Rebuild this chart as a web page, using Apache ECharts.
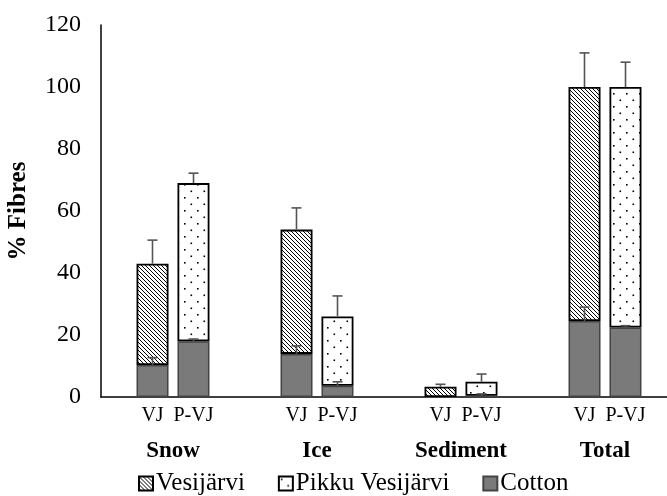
<!DOCTYPE html>
<html><head><meta charset="utf-8">
<script src="https://cdn.jsdelivr.net/npm/echarts@6/dist/echarts.min.js"></script>
<style>html,body{margin:0;padding:0;background:#fff;overflow:hidden;width:667px;height:496px}#c{width:677px;height:496px}</style>
</head><body><div id="c"></div>
<script>
// ---- data ----
const groups = ['Snow', 'Ice', 'Sediment', 'Total'];
const subLabels = ['VJ', 'P-VJ'];
const yTicks = [0, 20, 40, 60, 80, 100, 120];
const vjCotton = [10.3, 13.9, 0, 24.5];
const vjCottonErr = [2.4, 2.6, 0, 4.5];
const vesijarvi = [32.7, 40.1, 3.3, 75.5];
const vjTotalErr = [7.6, 7.0, 0.8, 11];
const pvjCotton = [18, 3.6, 0.4, 22.4];
const pvjCottonErr = [0.7, 1.3, 0.6, 0.6];
const pikku = [51, 22.4, 4.5, 77.6];
const pvjTotalErr = [3.2, 6.6, 2.5, 8];

const FONT = "'Liberation Serif','Times New Roman',serif";

function hatchPattern() {
  const s = 4, c = document.createElement('canvas'); c.width = c.height = s;
  const g = c.getContext('2d');
  g.fillStyle = '#fff'; g.fillRect(0, 0, s, s);
  g.strokeStyle = '#000'; g.lineWidth = 1;
  g.beginPath();
  g.moveTo(-1, -1); g.lineTo(s + 1, s + 1);
  g.moveTo(-1, s - 1); g.lineTo(1, s + 1);
  g.moveTo(s - 1, -1); g.lineTo(s + 1, 1);
  g.stroke();
  return c;
}
function dotPattern() {
  const s = 13, c = document.createElement('canvas'); c.width = c.height = s;
  const g = c.getContext('2d');
  g.fillStyle = '#fff'; g.fillRect(0, 0, s, s);
  g.fillStyle = '#000';
  g.fillRect(2, 2, 1.6, 1.6);
  g.fillRect(8.5, 8.5, 1.6, 1.6);
  return c;
}
const hatch = { image: hatchPattern(), repeat: 'repeat' };
const dots = { image: dotPattern(), repeat: 'repeat' };
const cottonColor = '#7a7a7a';

const stackTop = (a, b) => a.map((v, i) => v + b[i]);
const vjTotal = stackTop(vjCotton, vesijarvi);
const pvjTotal = stackTop(pvjCotton, pikku);

const errData = [];
groups.forEach((g, i) => {
  errData.push([i, vjCotton[i], vjCottonErr[i], -1]);
  errData.push([i, vjTotal[i], vjTotalErr[i], -1]);
  errData.push([i, pvjCotton[i], pvjCottonErr[i], 1]);
  errData.push([i, pvjTotal[i], pvjTotalErr[i], 1]);
});

const chart = echarts.init(document.getElementById('c'));
const barCommon = { type: 'bar', barWidth: 32, barGap: '28%' };
chart.setOption({
  animation: false,
  textStyle: { fontFamily: FONT },
  grid: { left: 101, top: 25, right: 0, height: 372, containLabel: false, outerBoundsMode: 'none' },
  legend: {
    top: 471, left: 138, padding: 0, itemWidth: 14, itemHeight: 14, itemGap: 33,
    icon: 'rect',
    textStyle: { fontFamily: FONT, fontSize: 25, color: '#000', padding: [0, 0, 0, -2] },
    data: ['Vesijärvi', 'Pikku Vesijärvi', 'Cotton']
  },
  xAxis: {
    type: 'category', data: groups,
    axisLine: { lineStyle: { color: '#000', width: 1.5 } },
    axisTick: { show: false },
    axisLabel: {
      margin: 4,
      formatter: v => '{a|' + subLabels[0] + '}{a|' + subLabels[1] + '}\n{g|' + v + '}',
      rich: {
        a: { width: 41, align: 'center', fontSize: 20, fontFamily: FONT, color: '#000', lineHeight: 30 },
        g: { align: 'center', fontSize: 23, fontWeight: 'bold', fontFamily: FONT, color: '#000', lineHeight: 40 }
      }
    }
  },
  yAxis: {
    type: 'value', min: yTicks[0], max: yTicks[yTicks.length - 1], interval: 20,
    name: '% Fibres', nameLocation: 'middle', nameGap: 70,
    nameTextStyle: { fontFamily: FONT, fontSize: 25, fontWeight: 'bold', color: '#000' },
    axisLine: { show: true, lineStyle: { color: '#000', width: 1.5 } },
    axisTick: { show: false },
    splitLine: { show: false },
    axisLabel: { margin: 20, fontSize: 24, fontFamily: FONT, color: '#000' }
  },
  series: [
    Object.assign({}, barCommon, { name: 'Cotton', stack: 'vj', data: vjCotton,
      itemStyle: { color: cottonColor, borderColor: '#444', borderWidth: 1.5 } }),
    Object.assign({}, barCommon, { name: 'Vesijärvi', stack: 'vj', data: vesijarvi,
      itemStyle: { color: hatch, borderColor: '#000', borderWidth: 1.8 } }),
    Object.assign({}, barCommon, { name: 'Cotton', stack: 'pvj', data: pvjCotton,
      itemStyle: { color: cottonColor, borderColor: '#444', borderWidth: 1.5 } }),
    Object.assign({}, barCommon, { name: 'Pikku Vesijärvi', stack: 'pvj', data: pikku,
      itemStyle: { color: dots, borderColor: '#000', borderWidth: 1.8 } }),
    {
      type: 'custom', name: 'err', z: 10, silent: true,
      data: errData,
      renderItem: (params, api) => {
        const x = api.value(0), top = api.value(1), err = api.value(2), side = api.value(3);
        if (!err) return null;
        const band = api.size([1, 0])[0];
        const c1 = api.coord([x, top]);
        const c2 = api.coord([x, top + err]);
        const cx = c1[0] + side * band * 0.1424;
        const st = { stroke: '#555', lineWidth: 1.6 };
        return { type: 'group', children: [
          { type: 'line', shape: { x1: cx, y1: c1[1], x2: cx, y2: c2[1] }, style: st },
          { type: 'line', shape: { x1: cx - 5, y1: c2[1], x2: cx + 5, y2: c2[1] }, style: st }
        ] };
      }
    }
  ]
});
</script></body></html>
